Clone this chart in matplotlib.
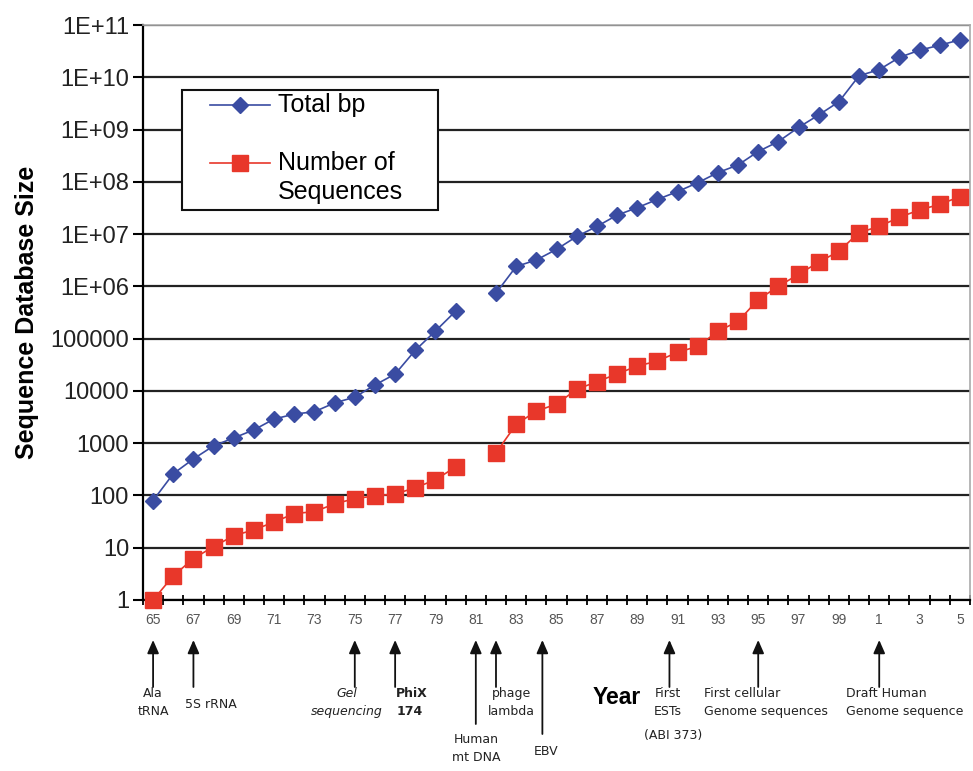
import numpy as np
import matplotlib
matplotlib.use('Agg')
import matplotlib.pyplot as plt
from matplotlib.patches import Rectangle
from matplotlib.lines import Line2D

# data (1981 has no point)
years = list(range(1965, 2006))
total_bp = [80, 260, 500, 890, 1260, 1800, 2900, 3600, 4000, 5900,
            7600, 13000, 21000, 60000, 140000, 335000, np.nan, 740000, 2.4e6, 3.2e6,
            5.1e6, 9.0e6, 1.4e7, 2.3e7, 3.2e7, 4.6e7, 6.5e7, 9.6e7, 1.5e8, 2.1e8,
            3.8e8, 5.9e8, 1.1e9, 1.9e9, 3.4e9, 1.07e10, 1.4e10, 2.4e10, 3.3e10, 4.1e10,
            5.2e10]
num_sequences = [1, 2.9, 6.2, 10.5, 17, 22, 31, 45, 49, 69,
                 87, 98, 107, 140, 200, 350, np.nan, 650, 2300, 4100,
                 5600, 10700, 15000, 21000, 30000, 37000, 55000, 71000, 138000, 214000,
                 560000, 1.0e6, 1.7e6, 2.9e6, 4.7e6, 1.07e7, 1.4e7, 2.1e7, 2.9e7, 3.7e7,
                 5.2e7]

event_years = [1965, 1967, 1975, 1977, 1981, 1982, 1984.3, 1990.6, 1995, 2001]
event_labels = ['Ala\ntRNA', '5S rRNA', 'Gel\nsequencing', 'PhiX\n174', 'Human\nmt DNA',
                'phage\nlambda', 'EBV', 'First\nESTs',
                'First cellular\nGenome sequences', 'Draft Human\nGenome sequence']
est_note = '(ABI 373)'

blue = '#3a4ca2'
red = '#e8372a'
W, H = 973, 771

plt.rcParams['font.family'] = ['Liberation Sans', 'DejaVu Sans']

fig = plt.figure(figsize=(W / 100, H / 100), dpi=100)
ax = fig.add_axes([143 / W, 1 - 600 / H, 827 / W, 575 / H])

ax.plot(years, total_bp, color=blue, marker='D', markersize=8, linewidth=1.2,
        clip_on=False, zorder=3)
ax.plot(years, num_sequences, color=red, marker='s', markersize=11.5, linewidth=1.2,
        clip_on=False, zorder=3)

ax.set_yscale('log')
ax.set_ylim(1, 1e11)
ax.set_xlim(years[0] - 0.5, years[-1] + 0.5)

yt = [10.0 ** k for k in range(12)]
ax.set_yticks(yt)
ax.set_yticklabels(['1E+%02d' % k if k >= 6 else str(10 ** k) for k in range(12)])
ax.yaxis.set_minor_locator(matplotlib.ticker.NullLocator())
ax.tick_params(axis='y', labelsize=17, length=7, width=1.5, labelcolor='#222', pad=3)

ax.set_xticks(years[::2])
ax.set_xticklabels([str(y % 100) for y in years[::2]])
ax.set_xticks(np.arange(years[0] - 0.5, years[-1] + 1), minor=True)
ax.tick_params(axis='x', which='major', length=0, labelsize=10, labelcolor='#555', pad=9)
ax.tick_params(axis='x', which='minor', direction='inout', length=7, width=1.3)

ax.grid(axis='y', color='#222', linewidth=1.6)
ax.set_axisbelow(True)
for s in ['left', 'bottom']:
    ax.spines[s].set_linewidth(1.6)
for s in ['top', 'right']:
    ax.spines[s].set_color('#aaa')
    ax.spines[s].set_linewidth(1.2)

ax.set_ylabel('Sequence Database Size', fontsize=18, fontweight='bold', labelpad=8)

# legend box drawn by hand so the red handle sits on the first label line
def fp(px, py):
    return px / W, 1 - py / H

x0, y0 = fp(182, 210)
x1, y1 = fp(438, 90)
fig.add_artist(Rectangle((x0, y0), x1 - x0, y1 - y0, transform=fig.transFigure,
                         facecolor='white', edgecolor='#111', linewidth=1.5, zorder=5))
for py, col, mk, ms in [(105, blue, 'D', 8), (163, red, 's', 11.5)]:
    (lx0, ly), (lx1, _) = fp(210, py), fp(270, py)
    fig.add_artist(Line2D([lx0, lx1], [ly, ly], color=col, linewidth=1.2,
                          transform=fig.transFigure, zorder=6))
    fig.add_artist(Line2D([(lx0 + lx1) / 2], [ly], color=col, marker=mk, markersize=ms,
                          transform=fig.transFigure, zorder=6))
fig.text(*fp(278, 105), 'Total bp', fontsize=18, va='center', ha='left', zorder=7)
fig.text(*fp(278, 163), 'Number of', fontsize=18, va='center', ha='left', zorder=7)
fig.text(*fp(278, 192), 'Sequences', fontsize=18, va='center', ha='left', zorder=7)

# event arrows under the axis
tails = [687, 687, 687, 687, 724, 687, 734, 687, 687, 687]
text_layout = [  # (x offset in years, top y px, ha, style)
    (0.0, 687, 'center', {}),
    (-0.4, 698, 'left', {}),
    (-0.4, 687, 'center', {'style': 'italic'}),
    (0.05, 687, 'left', {'fontweight': 'bold'}),
    (0.0, 733, 'center', {}),
    (0.75, 687, 'center', {}),
    (0.2, 745, 'center', {}),
    (-0.1, 687, 'center', {}),
    (-2.7, 687, 'left', {}),
    (-1.65, 687, 'left', {}),
]
for yr, lab, tail, (dx, ty, ha, st) in zip(event_years, event_labels, tails, text_layout):
    ax.annotate('', xy=(yr, H - 640), xycoords=('data', 'figure pixels'),
                xytext=(yr, H - tail), textcoords=('data', 'figure pixels'),
                arrowprops=dict(arrowstyle='-|>,head_width=0.35,head_length=0.8',
                                color='#111', linewidth=1.3, shrinkA=0, shrinkB=0),
                annotation_clip=False)
    ax.annotate(lab, xy=(yr + dx, H - ty), xycoords=('data', 'figure pixels'),
                ha=ha, va='top', fontsize=9, color='#222', linespacing=1.5,
                family='DejaVu Sans', annotation_clip=False, **st)
ax.annotate(est_note, xy=(event_years[7] + 0.2, H - 729), xycoords=('data', 'figure pixels'),
            ha='center', va='top', fontsize=9, color='#222', family='DejaVu Sans',
            annotation_clip=False)

fig.text(*fp(617, 697), 'Year', fontsize=16.5, fontweight='bold', ha='center', va='center')

fig.savefig('out.png', dpi=100)
